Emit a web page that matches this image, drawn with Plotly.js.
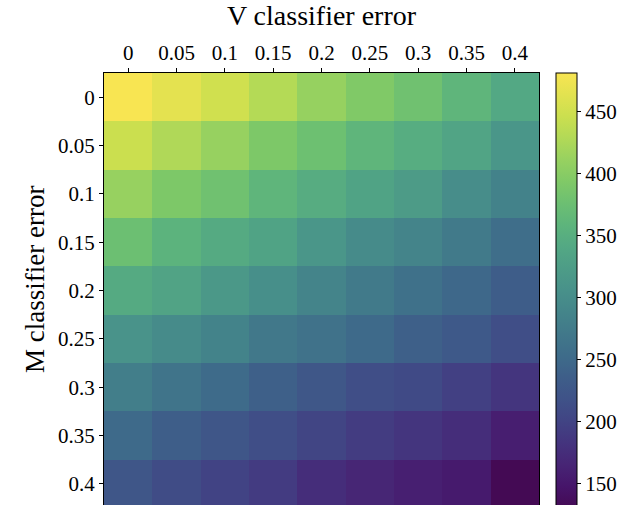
<!DOCTYPE html>
<html>
<head>
<meta charset="utf-8">
<script src="https://cdn.plot.ly/plotly-3.0.1.min.js"></script>
<style>html,body{margin:0;padding:0;background:#fff;} #chart{width:641px;height:505px;}</style>
</head>
<body>
<div id="chart"></div>
<script>
const vErrors = [0, 0.05, 0.1, 0.15, 0.2, 0.25, 0.3, 0.35, 0.4];
const mErrors = [0, 0.05, 0.1, 0.15, 0.2, 0.25, 0.3, 0.35, 0.4];
const vLabels = ["0", "0.05", "0.1", "0.15", "0.2", "0.25", "0.3", "0.35", "0.4"];
const mLabels = ["0", "0.05", "0.1", "0.15", "0.2", "0.25", "0.3", "0.35", "0.4"];
// rows: M classifier error, columns: V classifier error
const row000 = [481, 465, 450, 430, 410, 393, 379, 360, 341];
const row005 = [446, 427, 411, 391, 377, 360, 348, 335, 314];
const row010 = [411, 391, 379, 360, 347, 333, 322, 300, 284];
const row015 = [376, 356, 344, 333, 313, 297, 287, 273, 256];
const row020 = [344, 334, 316, 302, 287, 273, 260, 248, 234];
const row025 = [308, 296, 285, 270, 262, 250, 238, 228, 213];
const row030 = [279, 264, 251, 238, 225, 213, 208, 196, 184];
const row035 = [250, 235, 223, 213, 201, 191, 184, 174, 157];
const row040 = [223, 210, 199, 190, 175, 166, 159, 153, 130];
const zValues = [row000, row005, row010, row015, row020, row025, row030, row035, row040];
const cbTicks = [150, 200, 250, 300, 350, 400, 450];
const zMin = 130, zMax = 481;
// muted viridis, colours
const scaleStops = [0, 0.05, 0.1, 0.15, 0.2, 0.25, 0.3, 0.35, 0.4, 0.45, 0.5,
                    0.55, 0.6, 0.65, 0.7, 0.75, 0.8, 0.85, 0.9, 0.95, 1];
const scaleColors = ["#440a54", "#46156a", "#472575", "#44347e", "#414484", "#3f5288",
                     "#3e5e89", "#3e6c8a", "#41788a", "#44858a", "#48918a", "#4d9c87",
                     "#53a884", "#5db47c", "#6cbf72", "#80c967", "#97d160", "#b2d957",
                     "#cbdf4f", "#e2e250", "#f8e552"];
const colorscale = scaleStops.map((s, i) => [s, scaleColors[i]]);

const fontFamily = "Liberation Serif, Times New Roman, serif";
const font = {family: fontFamily, color: "#000", size: 21};

const trace = {
  type: "heatmap",
  x: vErrors,
  y: mErrors,
  z: zValues,
  zmin: zMin,
  zmax: zMax,
  colorscale: colorscale,
  zsmooth: false,
  hoverinfo: "skip",
  colorbar: {
    thickness: 21,
    thicknessmode: "pixels",
    len: 435,
    lenmode: "pixels",
    x: 1.038,
    xanchor: "left",
    xpad: 0,
    y: 1,
    yanchor: "top",
    ypad: 0,
    outlinewidth: 1,
    outlinecolor: "#000",
    ticks: "outside",
    ticklen: 4,
    tickwidth: 1,
    tickcolor: "#000",
    tickvals: cbTicks,
    tickfont: font
  }
};

const layout = {
  width: 641,
  height: 505,
  margin: {l: 104, r: 102, t: 73, b: 0, pad: 0},
  paper_bgcolor: "#fff",
  plot_bgcolor: "#fff",
  font: font,
  xaxis: {
    side: "top",
    range: [-0.025, 0.425],
    tickvals: vErrors,
    ticktext: vLabels,
    ticks: "outside",
    ticklen: 4,
    tickwidth: 1,
    tickcolor: "#000",
    showgrid: false,
    zeroline: false,
    showline: true,
    mirror: true,
    linecolor: "#000",
    linewidth: 1,
    tickfont: font,
    title: {text: "V classifier error", font: {family: fontFamily, size: 28, color: "#000"}, standoff: 10}
  },
  yaxis: {
    range: [0.4219, -0.025],
    tickvals: mErrors,
    ticktext: mLabels,
    ticks: "outside",
    ticklen: 4,
    tickwidth: 1,
    tickcolor: "#000",
    showgrid: false,
    zeroline: false,
    showline: true,
    mirror: true,
    linecolor: "#000",
    linewidth: 1,
    tickfont: font
  },
  annotations: [{
    text: "M classifier error",
    xref: "paper", yref: "paper",
    x: -0.1586, y: 0.5208,
    xanchor: "center", yanchor: "middle",
    textangle: -90,
    showarrow: false,
    font: {family: fontFamily, size: 27, color: "#000"}
  }]
};

Plotly.newPlot("chart", [trace], layout, {displayModeBar: false, staticPlot: true});
</script>
</body>
</html>
